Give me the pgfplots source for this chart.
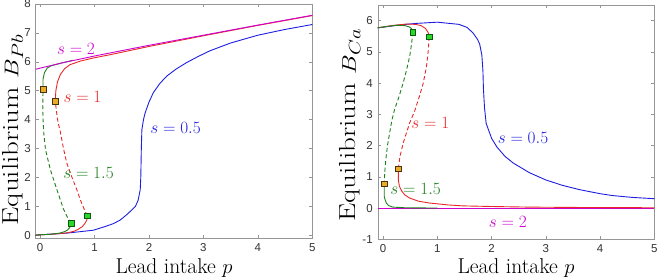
\documentclass[border=0pt]{standalone}
\usepackage{pgfplots}
\pgfplotsset{compat=1.18}
\usepackage{fontspec}
\newfontfamily\tickfont{Liberation Sans}
\definecolor{cblue}{RGB}{30,30,225}
\definecolor{cred}{RGB}{232,40,40}
\definecolor{cgreen}{RGB}{30,128,30}
\definecolor{cmag}{RGB}{205,0,205}
\definecolor{corange}{RGB}{235,170,40}
\definecolor{cgfill}{RGB}{40,215,40}
\definecolor{frame}{RGB}{150,150,150}
\newcommand{\lblfont}{\fontsize{17.8bp}{20bp}\selectfont}
\begin{document}
\begin{tikzpicture}
\pgfplotsset{
  mystyle/.style={
    scale only axis,
    width=276.6bp, height=234bp,
    axis line style={frame},
    every tick/.style={frame},
    major tick length=3bp,
    tick align=inside,
    xtick={0,1,2,3,4,5},
    /pgf/number format/assume math mode=true,
    tick label style={font=\tickfont\fontsize{11.5bp}{12bp}\selectfont, text=black!80},
    xticklabel style={yshift=-2bp},
    yticklabel style={xshift=-1.5bp},
    xlabel style={font=\fontsize{21.5bp}{24bp}\selectfont},
    ylabel style={font=\fontsize{29bp}{32bp}\selectfont},
    xlabel={Lead intake $p$},
    every axis plot/.append style={line width=0.9bp},
    clip=true,
  },
  dsh/.style={dash pattern=on 4bp off 2.6bp},
  omk/.style={only marks, mark=square*, mark size=2.8bp, mark options={fill=corange, draw=black!70!corange, line width=0.6bp}},
  gmk/.style={only marks, mark=square*, mark size=2.8bp, mark options={fill=cgfill, draw=black!60!cgfill, line width=0.6bp}},
}
\path[use as bounding box] (-35.7bp,-41bp) rectangle (622.3bp,238bp);
% ---------------- left panel ----------------
\begin{axis}[mystyle, at={(0,0)}, anchor=south west,
  xmin=-0.08, xmax=5, ymin=-0.1, ymax=8,
  ytick={0,1,2,3,4,5,6,7,8},
  ylabel={\scalebox{1}[0.8]{Equilibrium $B_{Pb}$}},
  ylabel style={at={(axis description cs:0,0.5)}, anchor=center, xshift=-9bp, yshift=23bp},
  xlabel style={at={(axis description cs:0.5,0)}, anchor=base, yshift=-35bp},
]
% s = 0.5
\addplot[cblue] coordinates {(-0.08,0) (0,0.01) (0.5,0.07) (0.98,0.17) (1.2,0.3) (1.35,0.4) (1.47,0.52) (1.6,0.72) (1.69,0.88) (1.75,0.99) (1.8,1.2) (1.84,1.57) (1.85,2.0) (1.855,2.49) (1.86,3.0) (1.87,3.65) (1.9,4.0) (1.93,4.23) (2.0,4.6) (2.08,4.93) (2.2,5.25) (2.33,5.51) (2.5,5.75) (2.69,5.97) (2.9,6.18) (3.12,6.38) (3.5,6.65) (4,6.92) (4.5,7.12) (5,7.29)};
% s = 1 (red)
\addplot[cred] coordinates {(-0.08,0) (0,0.01) (0.3,0.04) (0.5,0.08) (0.62,0.13) (0.7,0.2) (0.78,0.3) (0.83,0.42) (0.86,0.53) (0.87,0.67)};
\addplot[cred, dsh] coordinates {(0.87,0.67) (0.83,0.81) (0.74,1.22) (0.67,1.6) (0.58,2.03) (0.49,2.5) (0.43,3.0) (0.37,3.6) (0.33,3.9) (0.3,4.3) (0.28,4.64)};
\addplot[cred] coordinates {(0.28,4.64) (0.29,5.0) (0.32,5.3) (0.37,5.55) (0.45,5.76) (0.55,5.9) (0.75,6.03) (1,6.14) (1.3,6.25) (1.6,6.37) (2,6.53) (3,6.9) (4,7.26) (5,7.6)};
% s = 1.5 (green)
\addplot[cgreen] coordinates {(-0.08,0) (0,0.01) (0.2,0.03) (0.36,0.07) (0.45,0.12) (0.5,0.17) (0.54,0.25) (0.56,0.32) (0.57,0.41)};
\addplot[cgreen, dsh] coordinates {(0.57,0.41) (0.52,0.55) (0.43,0.9) (0.31,1.57) (0.19,2.26) (0.1,2.96) (0.07,3.5) (0.055,4.0) (0.05,4.5) (0.055,5.04)};
\addplot[cgreen] coordinates {(0.055,5.04) (0.055,5.4) (0.08,5.62) (0.13,5.78) (0.2,5.86) (0.3,5.91) (0.4,5.96) (0.6,6.05)};
% s = 2 (magenta)
\addplot[cmag] coordinates {(-0.08,5.74) (0,5.78) (0.4,5.96) (1,6.2) (2,6.57) (3,6.92) (4,7.27) (5,7.61)};
% markers
\addplot[omk] coordinates {(0.055,5.04) (0.28,4.64)};
\addplot[gmk] coordinates {(0.57,0.41) (0.87,0.67)};
% labels
\node[text=cmag, font=\lblfont] at (axis cs:0.66,6.43) {$s=2$};
\node[text=cred, font=\lblfont] at (axis cs:0.78,4.77) {$s=1$};
\node[text=cblue, font=\lblfont] at (axis cs:2.49,3.72) {$s=0.5$};
\node[text=cgreen, font=\lblfont] at (axis cs:0.89,2.16) {$s=1.5$};
\end{axis}
% ---------------- right panel ----------------
\begin{axis}[mystyle, at={(342bp,-1.3bp)}, anchor=south west, height=234.3bp,
  xmin=-0.1, xmax=5, ymin=-1, ymax=6.5,
  ytick={-1,0,1,2,3,4,5,6},
  ylabel={\scalebox{1}[0.8]{Equilibrium $B_{Ca}$}},
  ylabel style={at={(axis description cs:0,0.5)}, anchor=center, xshift=-3bp, yshift=27.7bp},
  xlabel style={at={(axis description cs:0.5,0)}, anchor=base, yshift=-33.7bp},
]
% s = 2
\addplot[cmag] coordinates {(-0.1,0) (5,0)};
% s = 0.5
\addplot[cblue] coordinates {(-0.1,5.77) (0,5.79) (0.3,5.86) (0.6,5.91) (1.0,5.95) (1.4,5.88) (1.55,5.78) (1.66,5.6) (1.74,5.4) (1.78,5.25) (1.82,4.9) (1.84,4.4) (1.85,3.8) (1.87,3.2) (1.9,2.71) (2.0,2.23) (2.1,1.95) (2.25,1.65) (2.4,1.44) (2.7,1.13) (3.0,0.9) (3.3,0.73) (3.62,0.59) (4.0,0.46) (4.23,0.4) (4.6,0.34) (5,0.3)};
% s = 1
\addplot[cred] coordinates {(-0.1,5.77) (0.2,5.85) (0.43,5.89) (0.6,5.88) (0.7,5.84) (0.78,5.75) (0.83,5.62) (0.85,5.48)};
\addplot[cred, dsh] coordinates {(0.85,5.48) (0.83,5.0) (0.8,4.54) (0.74,4.0) (0.67,3.58) (0.58,3.1) (0.49,2.73) (0.37,2.08) (0.31,1.65) (0.28,1.26)};
\addplot[cred] coordinates {(0.28,1.26) (0.28,0.91) (0.3,0.7) (0.34,0.55) (0.4,0.42) (0.49,0.32) (0.65,0.22) (0.86,0.16) (1.2,0.1) (1.47,0.07) (2,0.05) (2.7,0.03) (3.5,0.02) (5,0.01)};
% s = 1.5
\addplot[cgreen] coordinates {(-0.1,5.77) (0.1,5.82) (0.25,5.85) (0.4,5.84) (0.48,5.8) (0.52,5.75) (0.55,5.63)};
\addplot[cgreen, dsh] coordinates {(0.55,5.63) (0.52,5.2) (0.49,4.86) (0.43,4.4) (0.37,4.01) (0.29,3.55) (0.21,3.15) (0.16,2.8) (0.12,2.4) (0.08,2.0) (0.05,1.55) (0.03,1.15) (0.02,0.78)};
\addplot[cgreen] coordinates {(0.02,0.78) (0.02,0.37) (0.04,0.25) (0.06,0.16) (0.1,0.08) (0.18,0.03) (0.4,0.01) (1,0.0)};
% markers
\addplot[omk] coordinates {(0.02,0.78) (0.28,1.26)};
\addplot[gmk] coordinates {(0.55,5.63) (0.85,5.48)};
% labels
\node[text=cred, font=\lblfont] at (axis cs:0.87,2.72) {$s=1$};
\node[text=cblue, font=\lblfont] at (axis cs:2.58,2.24) {$s=0.5$};
\node[text=cgreen, font=\lblfont] at (axis cs:0.6,0.61) {$s=1.5$};
\node[text=cmag, font=\lblfont] at (axis cs:2.3,-0.43) {$s=2$};
\end{axis}
\end{tikzpicture}
\end{document}
